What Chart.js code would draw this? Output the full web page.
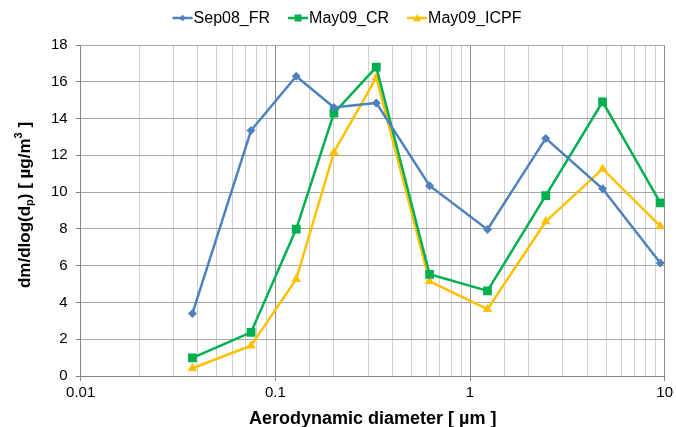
<!DOCTYPE html>
<html>
<head>
<meta charset="utf-8">
<script src="https://cdn.jsdelivr.net/npm/chart.js@4"></script>
<style>
  html, body { margin: 0; padding: 0; background: #fff; }
  #wrap { width: 676px; height: 427px; position: relative; }
</style>
</head>
<body>
<div id="wrap"><canvas id="sizeChart"></canvas></div>
<script>
// Data
const diameters = [0.0375, 0.075, 0.128, 0.2, 0.33, 0.62, 1.23, 2.45, 4.8, 9.5];
const sep08FR   = [3.4, 13.35, 16.3, 14.6, 14.85, 10.35, 7.97, 12.92, 10.18, 6.14];
const may09CR   = [0.99, 2.37, 7.99, 14.3, 16.8, 5.53, 4.63, 9.81, 14.91, 9.42];
const may09ICPF = [0.42, 1.65, 5.26, 12.17, 16.23, 5.15, 3.63, 8.4, 11.26, 8.15];
const xTickLabels = [0.01, 0.1, 1, 10];

const FONT = '"Liberation Sans", Arial, sans-serif';

const pts = (ys) => diameters.map((x, i) => ({ x, y: ys[i] }));

const series = [
  { label: 'Sep08_FR',   data: sep08FR,   color: '#4f81bd', style: 'rectRot',  r: 4.5, icon: 3.2 },
  { label: 'May09_CR',   data: may09CR,   color: '#00b050', style: 'rect',     r: 6.2, icon: 3.5 },
  { label: 'May09_ICPF', data: may09ICPF, color: '#ffc000', style: 'triangle', r: 5.5, icon: 4 },
];

function drawMarker(g, style, x, y, r) {
  g.beginPath();
  if (style === 'rectRot') {
    g.moveTo(x, y - r); g.lineTo(x + r, y); g.lineTo(x, y + r); g.lineTo(x - r, y);
  } else if (style === 'rect') {
    g.rect(x - r, y - r, r * 2, r * 2);
  } else {
    g.moveTo(x, y - r); g.lineTo(x + r, y + r * 0.8); g.lineTo(x - r, y + r * 0.8);
  }
  g.closePath(); g.fill();
}

// Excel-like legend: short line with marker, then the name
const legendPlugin = {
  id: 'xlLegend',
  afterDraw(chart) {
    const ctx = chart.ctx;
    const iconW = 20, gap = 1, between = 18, cy = 18, centerX = 347;
    ctx.save();
    ctx.font = `16px ${FONT}`;
    const widths = series.map(s => ctx.measureText(s.label).width);
    const total = widths.reduce((a, w) => a + iconW + gap + w, 0) + between * (series.length - 1);
    let x = centerX - total / 2;
    ctx.textBaseline = 'middle';
    series.forEach((s, i) => {
      ctx.strokeStyle = s.color;
      ctx.fillStyle = s.color;
      ctx.lineWidth = 2.5;
      ctx.beginPath(); ctx.moveTo(x, cy); ctx.lineTo(x + iconW, cy); ctx.stroke();
      drawMarker(ctx, s.style, x + iconW / 2, cy, s.icon);
      ctx.fillStyle = '#000';
      ctx.fillText(s.label, x + iconW + gap, cy + 1);
      x += iconW + gap + widths[i] + between;
    });
    ctx.restore();
  }
};

// y title with subscript / superscript
const yTitlePlugin = {
  id: 'yTitle',
  afterDraw(chart) {
    const ctx = chart.ctx;
    const parts = [
      { t: 'dm/dlog(d', size: 17, dy: 0 },
      { t: 'p', size: 11, dy: 5 },
      { t: ') [ µg/m', size: 17, dy: 0 },
      { t: '3', size: 11, dy: -6 },
      { t: ' ]', size: 17, dy: 0 },
    ];
    ctx.save();
    let total = 0;
    parts.forEach(p => { ctx.font = `bold ${p.size}px ${FONT}`; p.w = ctx.measureText(p.t).width; total += p.w; });
    ctx.translate(25, 205);
    ctx.rotate(-Math.PI / 2);
    ctx.fillStyle = '#000';
    ctx.textBaseline = 'middle';
    let x = -total / 2;
    parts.forEach(p => {
      ctx.font = `bold ${p.size}px ${FONT}`;
      ctx.fillText(p.t, x, p.dy);
      x += p.w;
    });
    ctx.restore();
  }
};

const isDecade = (v) => Math.abs(Math.log10(v) - Math.round(Math.log10(v))) < 1e-6;

new Chart(document.getElementById('sizeChart'), {
  type: 'line',
  plugins: [yTitlePlugin, legendPlugin],
  data: {
    datasets: series.map(s => ({
      label: s.label,
      data: pts(s.data),
      borderColor: s.color,
      backgroundColor: s.color,
      borderWidth: 2.5,
      pointStyle: s.style,
      pointRadius: s.r,
      pointBorderWidth: 0,
      pointBackgroundColor: s.color,
      tension: 0,
    }))
  },
  options: {
    responsive: true,
    maintainAspectRatio: false,
    animation: false,
    layout: { padding: { left: 43, right: 2, top: 45, bottom: 0 } },
    plugins: {
      legend: { display: false },
      tooltip: { enabled: false }
    },
    scales: {
      x: {
        type: 'logarithmic',
        min: 0.01,
        max: 10,
        border: { display: true, color: '#868686' },
        title: {
          display: true,
          text: 'Aerodynamic diameter [ µm ]',
          color: '#000',
          font: { family: FONT, size: 18, weight: 'bold', lineHeight: 1 },
          padding: { top: 5, bottom: -1 }
        },
        ticks: {
          autoSkip: false,
          maxRotation: 0,
          color: '#000',
          font: { family: FONT, size: 15 },
          padding: 3,
          callback: (v) => xTickLabels.some(t => Math.abs(t - v) < 1e-9) ? String(v) : ''
        },
        grid: {
          tickLength: 5,
          color: (c) => c.tick && isDecade(c.tick.value) ? '#8c8c8c' : '#d0d0d0',
          tickColor: (c) => c.tick && isDecade(c.tick.value) ? '#8c8c8c' : 'rgba(0,0,0,0)',
          lineWidth: 1,
        }
      },
      y: {
        min: 0,
        max: 18,
        border: { display: true, color: '#868686' },
        ticks: {
          stepSize: 2,
          color: '#000',
          font: { family: FONT, size: 15 },
          padding: 8
        },
        grid: {
          tickLength: 5,
          color: '#a6a6a6',
          tickColor: '#868686',
          lineWidth: 1,
        }
      }
    }
  }
});
</script>
</body>
</html>
